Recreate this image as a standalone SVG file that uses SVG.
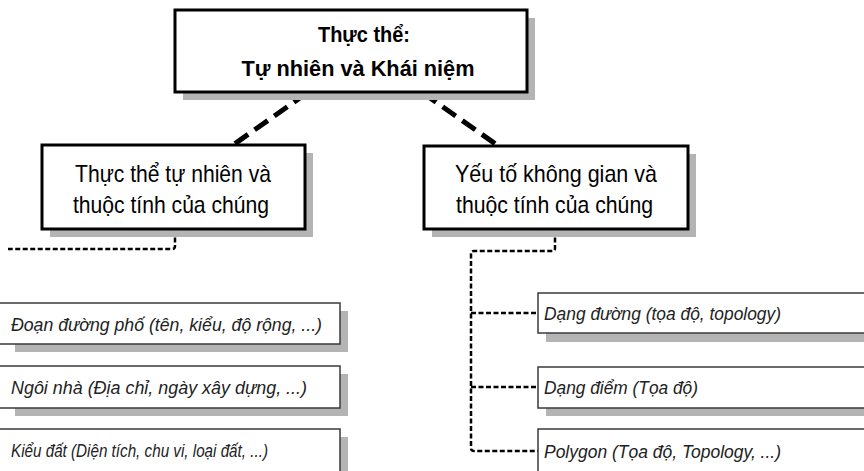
<svg xmlns="http://www.w3.org/2000/svg" width="864" height="471" viewBox="0 0 864 471">
  <style>
    .shadow { fill: #b4b4b4; }
    .box { fill: #ffffff; stroke: #000000; stroke-width: 3; }
    .leaf { fill: #ffffff; stroke: #3a3a3a; stroke-width: 1.5; }
    .title { font-family: "Liberation Sans", Arial, sans-serif; font-weight: bold; font-size: 22px; fill: #000; }
    .label { font-family: "Liberation Sans", Arial, sans-serif; font-size: 24px; fill: #000; }
    .item { font-family: "Liberation Sans", Arial, sans-serif; font-style: italic; font-size: 19px; fill: #222; }
    .thick { fill: none; stroke: #000; stroke-width: 5; stroke-dasharray: 16 8; }
    .thin { fill: none; stroke: #000; stroke-width: 2.5; stroke-dasharray: 5 2.5; }
  </style>
  <rect width="864" height="471" fill="#ffffff"/>

  <!-- connectors -->
  <g id="connectors">
    <line class="thick" x1="307" y1="93" x2="233" y2="145"/>
    <line class="thick" x1="423" y1="93" x2="497" y2="145"/>
    <path class="thin" d="M175,230 V246 Q175,249 172,249 H8"/>
    <path class="thin" d="M555,230 V248 Q555,251 552,251 H474 Q471,251 471,254 V448 Q471,451 474,451 H538"/>
    <path class="thin" d="M471,313 H538"/>
    <path class="thin" d="M471,387 H538"/>
    <g stroke="#000" stroke-width="2">
      <line x1="6" y1="329" x2="10" y2="329"/>
      <line x1="6" y1="391" x2="10" y2="391"/>
      <line x1="6" y1="453" x2="10" y2="453"/>
    </g>
  </g>

  <!-- root -->
  <g id="root">
    <rect class="shadow" x="183" y="18" width="352" height="82"/>
    <rect class="box" x="175" y="10" width="352" height="82"/>
    <text class="title" x="364" y="42" text-anchor="middle" textLength="92" lengthAdjust="spacingAndGlyphs">Thực thể:</text>
    <text class="title" x="358" y="76" text-anchor="middle" textLength="233" lengthAdjust="spacingAndGlyphs">Tự nhiên và Khái niệm</text>
  </g>

  <!-- natural entities -->
  <g id="natural">
    <rect class="shadow" x="50" y="153" width="263" height="84"/>
    <rect class="box" x="42" y="145" width="263" height="84"/>
    <text class="label" x="75" y="182" textLength="196" lengthAdjust="spacingAndGlyphs">Thực thể tự nhiên và</text>
    <text class="label" x="73" y="213" textLength="196" lengthAdjust="spacingAndGlyphs">thuộc tính của chúng</text>
  </g>

  <!-- spatial elements -->
  <g id="spatial">
    <rect class="shadow" x="432" y="154" width="264" height="83"/>
    <rect class="box" x="424" y="146" width="264" height="83"/>
    <text class="label" x="455" y="182" textLength="202" lengthAdjust="spacingAndGlyphs">Yếu tố không gian và</text>
    <text class="label" x="456" y="213" textLength="197" lengthAdjust="spacingAndGlyphs">thuộc tính của chúng</text>
  </g>

  <!-- natural entity leaves -->
  <g id="street">
    <rect class="shadow" x="15" y="311" width="333" height="41"/>
    <rect class="leaf" x="-10" y="303" width="350" height="41"/>
    <text class="item" x="11" y="331" textLength="311" lengthAdjust="spacingAndGlyphs">Đoạn đường phố (tên, kiểu, độ rộng, ...)</text>
  </g>
  <g id="house">
    <rect class="shadow" x="15" y="374" width="333" height="42"/>
    <rect class="leaf" x="-10" y="366" width="350" height="42"/>
    <text class="item" x="11" y="394" textLength="296" lengthAdjust="spacingAndGlyphs">Ngôi nhà (Địa chỉ, ngày xây dựng, ...)</text>
  </g>
  <g id="land">
    <rect class="shadow" x="15" y="437" width="333" height="60"/>
    <rect class="leaf" x="-10" y="429" width="350" height="60"/>
    <text class="item" x="11" y="457" font-size="16" textLength="257" lengthAdjust="spacingAndGlyphs">Kiểu đất (Diện tích, chu vi, loại đất, ...)</text>
  </g>

  <!-- spatial element leaves -->
  <g id="line-type">
    <rect class="shadow" x="546" y="301" width="340" height="41"/>
    <rect class="leaf" x="538" y="293" width="340" height="40"/>
    <text class="item" x="544" y="320" textLength="237" lengthAdjust="spacingAndGlyphs">Dạng đường (tọa độ, topology)</text>
  </g>
  <g id="point-type">
    <rect class="shadow" x="546" y="375" width="340" height="41"/>
    <rect class="leaf" x="538" y="367" width="340" height="41"/>
    <text class="item" x="544" y="394" textLength="154" lengthAdjust="spacingAndGlyphs">Dạng điểm (Tọa độ)</text>
  </g>
  <g id="polygon-type">
    <rect class="shadow" x="546" y="437" width="340" height="60"/>
    <rect class="leaf" x="538" y="429" width="340" height="60"/>
    <text class="item" x="544" y="458" textLength="237" lengthAdjust="spacingAndGlyphs">Polygon (Tọa độ, Topology, ...)</text>
  </g>
</svg>
